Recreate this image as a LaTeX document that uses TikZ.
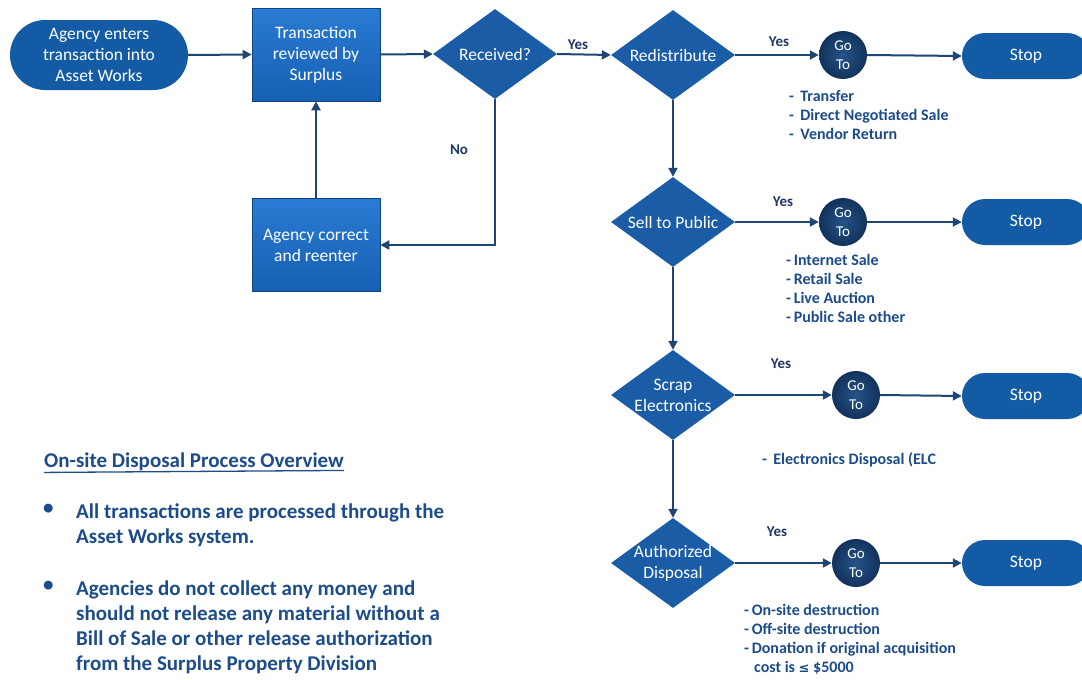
\documentclass[tikz,border=0pt]{standalone}
\usepackage{fontspec}
\setmainfont{Carlito}
\newfontfamily\symfont{DejaVu Sans}
\usetikzlibrary{shapes.geometric,arrows.meta}
\definecolor{navy}{HTML}{1F4673}
\definecolor{boxtop}{HTML}{2A7BD3}
\definecolor{boxbot}{HTML}{1660B4}
\definecolor{dmd}{HTML}{1A5CA6}
\definecolor{term}{HTML}{135BA5}
\definecolor{gocen}{HTML}{24548A}
\definecolor{goedge}{HTML}{12325A}
\definecolor{txtblue}{HTML}{1D4C8A}
\definecolor{lbl}{HTML}{1F3864}
\begin{document}
\begin{tikzpicture}[x=1pt,y=-1pt,
  arr/.style={draw=navy, line width=2pt, -{Triangle[length=9pt,width=9pt]}},
  procbox/.style={rectangle, draw=boxbot!70!black, line width=0.6pt, top color=boxtop, bottom color=boxbot,
     text=white, align=center, minimum width=128pt, inner sep=2pt, font=\fontsize{17.5}{21}\selectfont},
  decision/.style={diamond, fill=dmd, minimum width=124pt, minimum height=90pt, inner sep=0pt},
  dlabel/.style={text=white, align=center, inner sep=0pt, font=\fontsize{17.5}{21}\selectfont},
  termnode/.style={rectangle, fill=term, text=white, rounded corners=23pt, minimum height=46pt,
     font=\fontsize{17.5}{20}\selectfont},
  goto/.style={circle, inner color=gocen, outer color=goedge, text=white, minimum size=48pt, inner sep=0pt,
     align=center, font=\fontsize{15}{19}\selectfont},
  yeslbl/.style={text=lbl, font=\bfseries\fontsize{15}{17}\selectfont},
  listtxt/.style={text=txtblue, anchor=north west, align=left, inner sep=0pt,
     font=\bfseries\fontsize{16}{19}\selectfont},
  overview/.style={text=txtblue, anchor=north west, align=left, inner sep=0pt,
     font=\bfseries\fontsize{21}{25}\selectfont}
]
\useasboundingbox (0,0) rectangle (1082,680);
\clip (0,0) rectangle (1082,680);
\fill[white] (0,0) rectangle (1082,680);

% nodes
\node[rectangle, fill=term, text=white, rounded corners=35pt, minimum width=178pt, minimum height=70pt,
  align=center, font=\fontsize{17.5}{21}\selectfont] (start) at (99,55) {Agency enters\\transaction into\\Asset Works};
\node[procbox, minimum height=93pt] (trans) at (316,54.5) {Transaction\\reviewed by\\Surplus};
\node[decision] (rec) at (495,54) {};
\node[decision] (redis) at (673,55) {};
\node[decision] (sell) at (673,222) {};
\node[decision] (scrap) at (673,395) {};
\node[decision] (auth) at (673,563) {};
\node[dlabel] (rect) at (rec) {Received?};
\node[dlabel] (redist) at (redis) {Redistribute};
\node[dlabel] (sellt) at (sell) {Sell to Public};
\node[dlabel] (scrapt) at (scrap) {Scrap\\Electronics};
\node[dlabel] (autht) at (auth) {Authorized\\Disposal};
\node[procbox, minimum height=93pt] (agc) at (316,245) {Agency correct\\and reenter};

\node[goto] (g1) at (843,55) {Go\\To};
\node[goto] (g2) at (843,222) {Go\\To};
\node[goto] (g3) at (856,395) {Go\\To};
\node[goto] (g4) at (856,563) {Go\\To};

\node[termnode, minimum width=128pt] (s1) at (1026,56) {Stop};
\node[termnode, minimum width=128pt] (s2) at (1026,222) {Stop};
\node[termnode, minimum width=128pt] (s3) at (1026,396) {Stop};
\node[termnode, minimum width=128pt] (s4) at (1026,563) {Stop};

% connectors
\draw[arr] (start.east) -- (trans.west);
\draw[arr] (trans.east) -- (rec.west);
\draw[arr] (rec.east) -- (redis.west);
\draw[arr] (rec.south) |- (agc.east);
\draw[arr] (agc.north) -- (trans.south);
\draw[arr] (redis.south) -- (sell.north);
\draw[arr] (sell.south) -- (scrap.north);
\draw[arr] (scrap.south) -- (auth.north);
\draw[arr] (redis.east) -- (g1.west);
\draw[arr] (sell.east) -- (g2.west);
\draw[arr] (scrap.east) -- (g3.west);
\draw[arr] (auth.east) -- (g4.west);
\draw[arr] (g1.east) -- (s1.west);
\draw[arr] (g2.east) -- (s2.west);
\draw[arr] (g3.east) -- (s3.west);
\draw[arr] (g4.east) -- (s4.west);

% labels
\node[yeslbl] (y0) at (578,45) {Yes};
\node[yeslbl] (y1) at (779,42) {Yes};
\node[yeslbl] (y2) at (783,202) {Yes};
\node[yeslbl] (y3) at (781,364) {Yes};
\node[yeslbl] (y4) at (777,532) {Yes};
\node[yeslbl] (no) at (459,150) {No};

% lists
\node[listtxt] (l1) at (789,90) {- \,Transfer\\- \,Direct Negotiated Sale\\- \,Vendor Return};
\node[listtxt] (l2) at (786,254) {-\,Internet Sale\\-\,Retail Sale\\-\,Live Auction\\-\,Public Sale other};
\node[listtxt] (l3) at (762,452) {- \,Electronics Disposal (ELC};
\node[listtxt] (l4) at (744,604) {-\,On-site destruction\\-\,Off-site destruction\\-\,Donation if original acquisition\\\hspace*{10pt}cost is {\symfont\fontsize{13}{19}\selectfont ≤} \$5000};

% overview
\node[overview] (ovt) at (44,453) {On-site Disposal Process Overview};
\draw[txtblue, line width=1.3pt] (ovt.south west) ++(0,1) -- ([yshift=1pt]ovt.south east);
\node[overview] (b1) at (43,504) {\textbullet};
\node[overview] (t1) at (76,504) {All transactions are processed through the\\Asset Works system.};
\node[overview] (b2) at (43,581) {\textbullet};
\node[overview] (t2) at (76,581) {Agencies do not collect any money and\\should not release any material without a\\Bill of Sale or other release authorization\\from the Surplus Property Division};
\end{tikzpicture}
\end{document}
